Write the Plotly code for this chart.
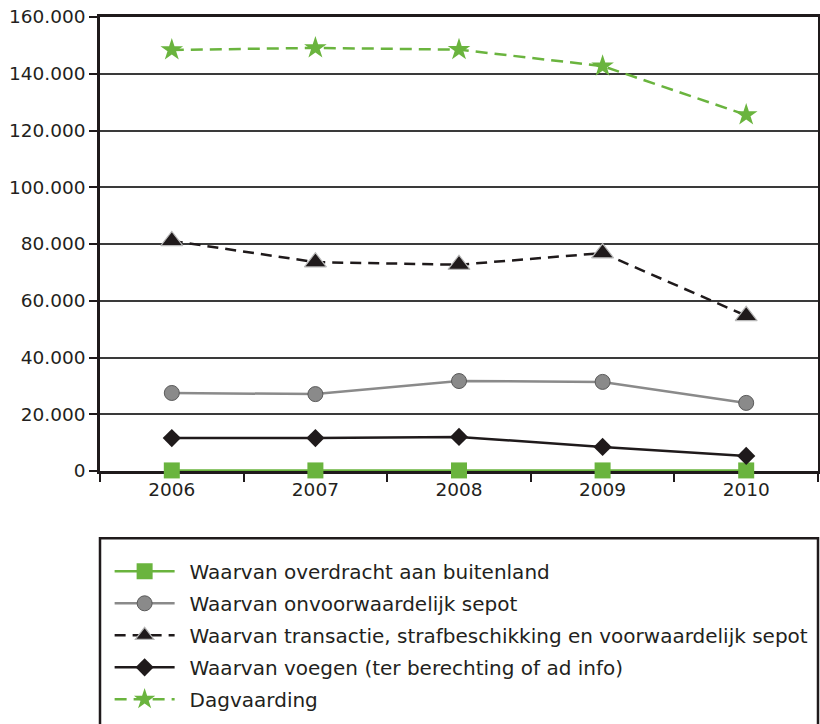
import plotly.graph_objects as go

years = ["2006", "2007", "2008", "2009", "2010"]
overdracht = [200, 200, 200, 200, 200]
onvoorwaardelijk = [27500, 27100, 31700, 31400, 24000]
transactie = [81100, 73600, 72700, 76800, 54700]
voegen = [11600, 11600, 12000, 8500, 5300]
dagvaarding = [148400, 149100, 148500, 142700, 125500]
y_ticks = [0, 20000, 40000, 60000, 80000, 100000, 120000, 140000, 160000]

GREEN = "#6ab43e"
BLACK = "#1f1a1b"
GRAY = "#8a8a8a"
SP = "\u2002"

fig = go.Figure()
fig.add_trace(go.Scatter(
    x=years, y=overdracht, name=SP + "Waarvan overdracht aan buitenland", mode="lines+markers",
    legendgroup="a", cliponaxis=False,
    line=dict(color=GREEN, width=2.5),
    marker=dict(symbol="square", size=16, color=GREEN)))
fig.add_trace(go.Scatter(
    x=years, y=onvoorwaardelijk, name=SP + "Waarvan onvoorwaardelijk sepot", mode="lines+markers",
    legendgroup="b", cliponaxis=False,
    line=dict(color=GRAY, width=2.5),
    marker=dict(symbol="circle", size=15, color=GRAY, line=dict(color="#5a5a5a", width=1))))
fig.add_trace(go.Scatter(
    x=years, y=transactie, name=SP + "Waarvan transactie, strafbeschikking en voorwaardelijk sepot",
    mode="lines+markers", legendgroup="c", cliponaxis=False,
    line=dict(color=BLACK, width=2.5, dash="11px,7px"),
    marker=dict(symbol="triangle-up", size=19, color=BLACK, line=dict(color="#b8b8b8", width=1.2))))
fig.add_trace(go.Scatter(
    x=years, y=voegen, name=SP + "Waarvan voegen (ter berechting of ad info)", mode="lines+markers",
    legendgroup="d", cliponaxis=False,
    line=dict(color=BLACK, width=2.5),
    marker=dict(symbol="diamond", size=14, color=BLACK)))
fig.add_trace(go.Scatter(
    x=years, y=dagvaarding, name=SP + "Dagvaarding", mode="lines+markers",
    legendgroup="e", cliponaxis=False,
    line=dict(color=GREEN, width=2.5, dash="12px,7px"),
    marker=dict(symbol="star", size=17, color=GREEN, line=dict(width=0))))

fig.update_layout(
    width=820, height=724,
    margin=dict(l=100, r=2, t=17, b=253, autoexpand=False),
    paper_bgcolor="white", plot_bgcolor="white",
    separators=",.",
    font=dict(family="DejaVu Sans, Liberation Sans, sans-serif", size=18.5, color="#231f20"),
    showlegend=True,
    legend=dict(
        x=0.0134, xanchor="left", y=-0.178, yanchor="top",
        font=dict(size=20), bgcolor="rgba(0,0,0,0)", borderwidth=0,
        traceorder="grouped", tracegroupgap=3, itemwidth=60,
    ),
    xaxis=dict(
        type="category", tickson="boundaries", ticks="outside", ticklen=8, tickwidth=1.5,
        tickcolor=BLACK, showgrid=False, showline=True, linecolor=BLACK, linewidth=2.5,
        mirror=True, range=[-0.5, 4.5], zeroline=False, layer="below traces",
    ),
    yaxis=dict(
        range=[0, 160000], tickvals=y_ticks, tickformat=",d",
        ticks="outside", ticklen=8, tickwidth=1.5, tickcolor=BLACK,
        showgrid=True, gridcolor="#3a3a3a", gridwidth=1.5,
        showline=True, linecolor=BLACK, linewidth=2.5, mirror=True, zeroline=False,
        layer="below traces",
    ),
    shapes=[dict(type="rect", xref="paper", yref="paper", x0=0, x1=1,
                 y0=-0.148, y1=-0.6, line=dict(color=BLACK, width=2.5), layer="below")],
)

fig.write_html("out.html", config={"displayModeBar": False},
               post_script="document.body.style.margin='0';document.body.style.overflow='hidden';")
